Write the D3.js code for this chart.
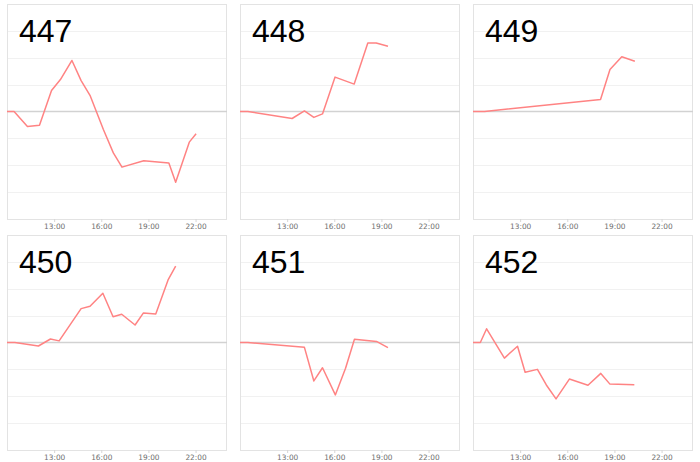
<!DOCTYPE html>
<html>
<head>
<meta charset="utf-8">
<script src="https://cdn.jsdelivr.net/npm/d3@7"></script>
<style>
  html, body { margin: 0; padding: 0; background: #fff; }
  svg { display: block; }
</style>
</head>
<body>
<svg id="chart" width="700" height="462"></svg>
<script>
// ---- data ----
const panelNames = ["447", "448", "449", "450", "451", "452"];

const times447  = ["10:00","10:27","11:18","12:04","12:50","13:24","14:08","14:43","15:18","16:08","16:46","17:19","18:42","20:18","20:44","21:36","22:02"];
const values447 = [0, 0, -0.56, -0.51, 0.78, 1.19, 1.9, 1.15, 0.58, -0.67, -1.54, -2.07, -1.83, -1.92, -2.63, -1.14, -0.83];

const times448  = ["10:00","10:30","13:19","14:06","14:42","15:15","16:03","17:16","18:08","18:40","19:25"];
const values448 = [0, 0, -0.26, 0.02, -0.22, -0.09, 1.28, 1.02, 2.55, 2.55, 2.43];

const times449  = ["10:00","10:44","18:07","18:43","19:28","20:18"];
const values449 = [0, 0, 0.45, 1.56, 2.04, 1.87];

const times450  = ["10:00","10:30","12:00","12:46","13:19","14:43","15:17","16:06","16:45","17:18","18:09","18:41","19:28","20:15","20:44"];
const values450 = [0, 0, -0.13, 0.13, 0.06, 1.26, 1.35, 1.83, 0.96, 1.05, 0.65, 1.1, 1.06, 2.33, 2.84];

const times451  = ["10:00","10:30","14:06","14:42","15:15","16:04","16:43","17:17","18:41","19:25"];
const values451 = [0, 0, -0.18, -1.43, -0.94, -1.95, -0.96, 0.12, 0.04, -0.19];

const times452  = ["10:00","10:28","10:52","12:00","12:50","13:19","14:06","14:40","15:17","16:08","17:19","18:08","18:42","20:16"];
const values452 = [0, 0, 0.51, -0.58, -0.14, -1.11, -1.0, -1.58, -2.1, -1.36, -1.59, -1.15, -1.54, -1.57];

const tickLabels = ["13:00", "16:00", "19:00", "22:00"];
const yTicks = [-4, -3, -2, -1, 0, 1, 2, 3, 4];

const seriesTimes = [times447, times448, times449, times450, times451, times452];
const seriesValues = [values447, values448, values449, values450, values451, values452];

// ---- layout ----
const colLefts = [7, 240, 473];
const rowTops = [4, 235];
const pw = 220, ph = 215;

const parse = d3.timeParse("%H:%M");
const fmt = d3.timeFormat("%H:%M");
const xStart = parse("10:00");
const xEnd = d3.timeDay.offset(parse("00:00"), 1);

const svg = d3.select("#chart");

panelNames.forEach((name, i) => {
  const col = i % 3, row = Math.floor(i / 3);
  const g = svg.append("g").attr("transform", `translate(${colLefts[col]},${rowTops[row]})`);

  const x = d3.scaleTime().domain([xStart, xEnd]).range([0, pw]);
  const y = d3.scaleLinear().domain([-4, 4]).range([ph, 0]);

  // gridlines
  g.selectAll("line.grid").data(yTicks.filter(d => d !== 0 && Math.abs(d) !== 4)).enter()
    .append("line").attr("class", "grid")
    .attr("x1", 0).attr("x2", pw)
    .attr("y1", d => Math.round(y(d)) + 0.5).attr("y2", d => Math.round(y(d)) + 0.5)
    .attr("stroke", "#f1f1f1").attr("stroke-width", 1);

  // border
  g.append("rect").attr("x", 0.5).attr("y", 0.5).attr("width", pw - 1).attr("height", ph)
    .attr("fill", "none").attr("stroke", "#e3e3e3").attr("stroke-width", 1);

  // zero line
  g.append("line")
    .attr("x1", 0).attr("x2", pw)
    .attr("y1", y(0)).attr("y2", y(0))
    .attr("stroke", "#d2d2d2").attr("stroke-width", 1.6);

  // x axis
  const axis = d3.axisBottom(x)
    .tickValues(tickLabels.map(parse))
    .tickFormat(fmt)
    .tickSize(3)
    .tickPadding(2);
  const ax = g.append("g").attr("transform", `translate(0,${ph})`).call(axis);
  ax.select(".domain").remove();
  ax.selectAll(".tick line").attr("stroke", "#d6d6d6");
  ax.selectAll(".tick text")
    .attr("fill", "#6f6f6f")
    .style("font-family", "'DejaVu Sans', Verdana, sans-serif")
    .style("font-size", "7.4px");

  // line
  const data = seriesTimes[i].map((t, k) => ({ t: parse(t), v: seriesValues[i][k] }));
  const line = d3.line().x(d => x(d.t)).y(d => y(d.v));
  g.append("path").datum(data)
    .attr("d", line)
    .attr("fill", "none")
    .attr("stroke", "#ff8383")
    .attr("stroke-width", 1.5)
    .attr("stroke-linejoin", "round");

  // title
  g.append("text")
    .attr("x", 12).attr("y", 38)
    .attr("fill", "#000")
    .style("font-family", "'Liberation Sans', Arial, sans-serif")
    .style("font-size", "32px")
    .text(name);
});
</script>
</body>
</html>
